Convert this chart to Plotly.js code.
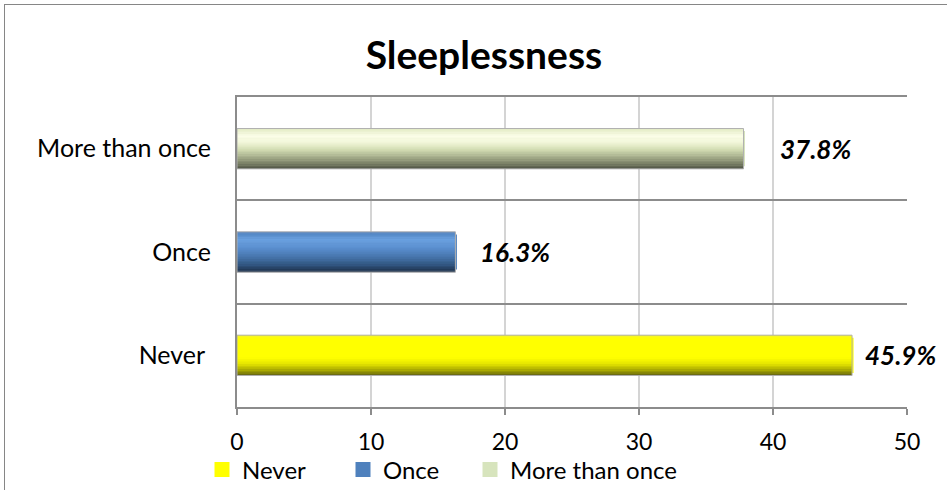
<!DOCTYPE html>
<html><head><meta charset="utf-8">
<script src="https://cdn.plot.ly/plotly-3.0.1.min.js"></script>
<style>
body{margin:0;background:#fff}
#wrap{position:relative;width:947px;height:490px;overflow:hidden}
#frame{position:absolute;left:4px;top:4px;width:1100px;height:1100px;border:1px solid #868686;pointer-events:none}
</style>
</head><body>
<div id="wrap"><div id="chart" style="width:947px;height:490px"></div><div id="frame"></div></div>
<script>
// ---- data ----
const categories = ['Never', 'Once', 'More than once'];
const tickLabels = ['Never\u00a0', 'Once', 'More than once'];
const values = [45.9, 16.3, 37.8];
const valueLabels = ['45.9%', '16.3%', '37.8%'];
const xTicks = [0, 10, 20, 30, 40, 50];

// ---- style ----
const baseColors = ['#ffff00', '#4f81bd', '#d7e4bd'];
const gradStops = [
  [[0, '#f4f430'], [0.08, '#ffff00'], [0.55, '#ffff00'], [0.7, '#e6e600'], [0.82, '#b8b800'], [0.92, '#8c8c05'], [1, '#5e5e12']],
  [[0, '#4a7dbb'], [0.18, '#6aa1e0'], [0.4, '#5b8fcf'], [0.62, '#4674ab'], [0.82, '#30547e'], [1, '#1b2c45']],
  [[0, '#e2ebc4'], [0.18, '#fbfde8'], [0.35, '#f1f6d8'], [0.52, '#d2dcb2'], [0.7, '#a6ae8b'], [0.86, '#7b8167'], [1, '#4d5242']]
];
const labelShift = [11, 23, 34];
const legendLeft = [202, 343, 470];
const W = 0.39, N = 24;
const FONT = 'Lato, Carlito, Calibri, sans-serif';

function hex2rgb(h){return [1,3,5].map(i=>parseInt(h.substr(i,2),16));}
function interp(stops, t){
  for(let i=1;i<stops.length;i++){
    if(t<=stops[i][0]){
      const a=stops[i-1], b=stops[i];
      const f=(t-a[0])/((b[0]-a[0])||1);
      const ca=hex2rgb(a[1]), cb=hex2rgb(b[1]);
      const c=ca.map((v,j)=>Math.round(v+(cb[j]-v)*f));
      return 'rgb('+c.join(',')+')';
    }
  }
  return stops[stops.length-1][1];
}

const legendIds = ['legend', 'legend2', 'legend3'];
const traces = [];
categories.forEach((c,i)=>{
  traces.push({type:'bar', orientation:'h', name:c, legend:legendIds[i], x:[values[i]], y:[c], width:W*0.8,
    marker:{color:baseColors[i], line:{width:3, color:baseColors[i]}}, hoverinfo:'x+y'});
});
for(let k=0;k<N;k++){
  const tTop = 1-(k+0.5)/N;
  traces.push({type:'bar', orientation:'h', showlegend:false, hoverinfo:'skip',
    x:values, y:categories, width:categories.map(()=>W/N+0.004),
    offset:categories.map(()=>-W/2+k*W/N-0.002),
    marker:{color:categories.map((c,i)=>interp(gradStops[i], tTop)), line:{width:0}}});
}
traces.push({type:'bar', orientation:'h', showlegend:false, hoverinfo:'skip',
  x:values, y:categories, width:W, marker:{color:'rgba(0,0,0,0)', line:{color:'#b0b0b0', width:1}}});

const layout = {
  width:947, height:490,
  margin:{l:237, r:40, t:97, b:83},
  paper_bgcolor:'rgba(0,0,0,0)', plot_bgcolor:'#ffffff',
  barmode:'overlay',
  font:{family:FONT, size:24, color:'#000'},
  title:{text:'<b>Sleeplessness</b>', font:{family:FONT, size:39, color:'#000'},
    xref:'container', x:0.511, xanchor:'center', yref:'container', y:0.888, yanchor:'middle'},
  xaxis:{range:[0,50], tickvals:xTicks, ticktext:xTicks.map(String), showgrid:true,
    gridcolor:'#d4d4d4', gridwidth:1.5, zeroline:false,
    showline:true, linecolor:'#8c8c8c', linewidth:2, mirror:true,
    ticks:'outside', ticklen:6, tickcolor:'#8c8c8c', tickwidth:1.5,
    ticklabelstandoff:7, tickfont:{family:FONT, size:23}, fixedrange:true},
  yaxis:{type:'category', categoryorder:'array', categoryarray:categories,
    tickvals:categories, ticktext:tickLabels, range:[-0.5,2.5],
    tickson:'boundaries', showgrid:true, gridcolor:'#8c8c8c', gridwidth:2,
    showline:true, linecolor:'#8c8c8c', linewidth:2, ticks:'', ticklabelstandoff:19,
    tickfont:{family:FONT, size:25}, zeroline:false, fixedrange:true},
  annotations: categories.map((c,i)=>({x:values[i], y:c, xref:'x', yref:'y', xanchor:'left', yanchor:'middle',
    xshift:labelShift[i], showarrow:false, text:'<b><i>'+valueLabels[i]+'</i></b>',
    font:{family:FONT, size:26, color:'#000'}})),
  showlegend:true
};
legendIds.forEach((id,i)=>{
  layout[id] = {orientation:'h', xref:'container', yref:'container', x:legendLeft[i]/947, xanchor:'left',
    y:1-470/490, yanchor:'middle', font:{family:FONT, size:24}, bgcolor:'rgba(0,0,0,0)'};
});
Plotly.newPlot('chart', traces, layout, {displayModeBar:false, staticPlot:true});
</script>
</body></html>
